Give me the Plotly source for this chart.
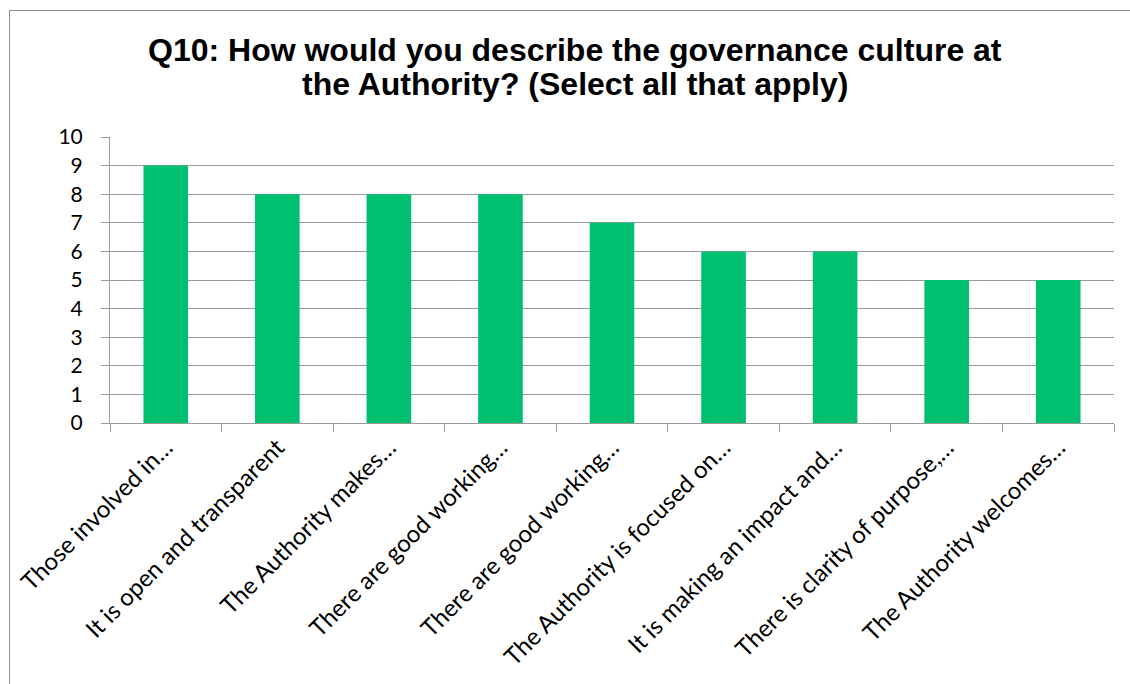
import plotly.graph_objects as go

# Survey responses for Q10
categories = [
    "Those involved in…",
    "It is open and transparent",
    "The Authority makes…",
    "There are good working…",
    "There are good working…",
    "The Authority is focused on…",
    "It is making an impact and…",
    "There is clarity of purpose,…",
    "The Authority welcomes…",
]
counts = [9, 8, 8, 8, 7, 6, 6, 5, 5]
y_ticks = list(range(0, 11))
title_lines = [
    "Q10: How would you describe the governance culture at",
    "the Authority? (Select all that apply)",
]

positions = list(range(len(categories)))
boundaries = [p - 0.5 for p in positions] + [positions[-1] + 0.5]

x_font = dict(family="Lato, Open Sans, sans-serif", size=24, color="#000000")
y_font = dict(family="Lato, Open Sans, sans-serif", size=21, color="#000000")
title_font = dict(family="Liberation Sans, Arial, sans-serif", size=32, color="#000000")
grey = "#9a9a9a"

# plot area geometry in pixels (used to place the title lines and frame)
PLOT_TOP, PLOT_H, PLOT_L, PLOT_W = 137, 286, 110, 1004


def py(px):
    return 1 + (PLOT_TOP - px) / PLOT_H


def px_x(px):
    return (px - PLOT_L) / PLOT_W


fig = go.Figure(
    go.Bar(
        x=positions,
        y=counts,
        width=0.4,
        marker=dict(color="#00BF6F", line=dict(width=0)),
        hoverinfo="skip",
    )
)

title_tops = [30, 64]
annotations = [
    dict(
        text=f"<b>{line}</b>",
        xref="paper", yref="paper",
        x=px_x(575), y=py(top),
        xanchor="center", yanchor="top",
        showarrow=False,
        font=title_font,
    )
    for line, top in zip(title_lines, title_tops)
]

fig.update_layout(
    width=1130,
    height=684,
    paper_bgcolor="white",
    plot_bgcolor="white",
    margin=dict(l=110, r=16, t=137, b=261),
    showlegend=False,
    annotations=annotations,
    xaxis=dict(
        range=[-0.5, len(categories) - 0.5],
        tickmode="array",
        tickvals=positions,
        ticktext=categories,
        tickangle=-45,
        ticks="",
        tickfont=x_font,
        showgrid=False,
        showline=True,
        linecolor=grey,
        linewidth=1,
        zeroline=False,
        minor=dict(
            tickmode="array",
            tickvals=boundaries,
            ticks="outside",
            ticklen=8,
            tickcolor=grey,
            tickwidth=1,
            showgrid=False,
        ),
    ),
    yaxis=dict(
        range=[0, 10],
        tickmode="array",
        tickvals=y_ticks,
        ticks="outside",
        ticklen=8,
        tickcolor=grey,
        tickfont=y_font,
        showgrid=True,
        gridcolor=grey,
        gridwidth=1,
        showline=True,
        linecolor=grey,
        linewidth=1,
        zeroline=False,
        ticklabelstandoff=14,
    ),
    shapes=[
        dict(type="line", xref="paper", yref="paper",
             x0=px_x(9.5), x1=px_x(9.5),
             y0=py(10.5), y1=-2,
             line=dict(color="#8c8c8c", width=1)),
        dict(type="line", xref="paper", yref="paper",
             x0=px_x(9.5), x1=1.2,
             y0=py(10.5), y1=py(10.5),
             line=dict(color="#8c8c8c", width=1)),
    ],
)

fig.write_html("out.html")
